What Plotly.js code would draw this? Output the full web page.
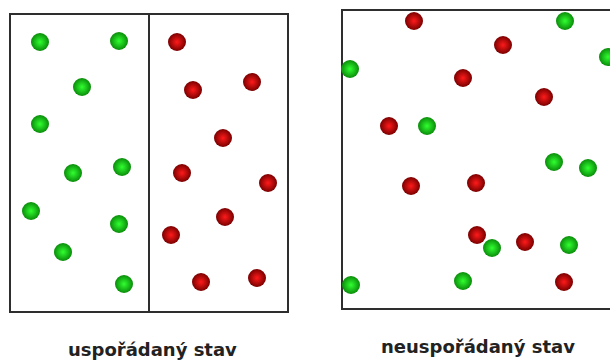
<!DOCTYPE html>
<html>
<head>
<meta charset="utf-8">
<script src="https://cdn.plot.ly/plotly-3.0.1.min.js"></script>
<style>html,body{margin:0;padding:0;background:#fff;}#chart{width:610px;height:361px;}</style>
</head>
<body>
<div id="chart"></div>
<script>
// Ordered state (left box): green on the left half, red on the right half
const orderedGreenX = [40, 119, 82, 40, 73, 122, 31, 119, 63, 124];
const orderedGreenY = [42, 41, 87, 124, 173, 167, 211, 224, 252, 284];
const orderedRedX = [177, 193, 252, 223, 182, 268, 225, 171, 201, 257];
const orderedRedY = [42, 90, 82, 138, 173, 183, 217, 235, 282, 278];

// Disordered state (right box): mixed
const mixedGreenX = [565, 608, 350, 427, 554, 588, 492, 569, 351, 463];
const mixedGreenY = [21, 57, 69, 126, 162, 168, 248, 245, 285, 281];
const mixedRedX = [414, 503, 463, 544, 389, 411, 476, 477, 525, 564];
const mixedRedY = [21, 45, 78, 97, 126, 186, 183, 235, 242, 282];

const labels = ["uspořádaný stav", "neuspořádaný stav"];
const labelX = [152, 478];
const labelY = [349, 346];

const greenStyle = {size: 18, color: '#0a8c0a', gradient: {type: 'radial', color: '#30ff30'}, line: {width: 0}};
const redStyle = {size: 18, color: '#7a0000', gradient: {type: 'radial', color: '#ff1a1a'}, line: {width: 0}};

const traces = [
  {x: orderedGreenX, y: orderedGreenY, mode: 'markers', type: 'scatter', marker: greenStyle, hoverinfo: 'skip'},
  {x: orderedRedX, y: orderedRedY, mode: 'markers', type: 'scatter', marker: redStyle, hoverinfo: 'skip'},
  {x: mixedGreenX, y: mixedGreenY, mode: 'markers', type: 'scatter', marker: greenStyle, hoverinfo: 'skip'},
  {x: mixedRedX, y: mixedRedY, mode: 'markers', type: 'scatter', marker: redStyle, hoverinfo: 'skip'}
];

const lineStyle = {color: '#2e2e2e', width: 2};
const layout = {
  width: 610, height: 361,
  margin: {l: 0, r: 0, t: 0, b: 0},
  paper_bgcolor: '#ffffff', plot_bgcolor: '#ffffff',
  showlegend: false,
  xaxis: {range: [0, 610], visible: false, fixedrange: true},
  yaxis: {range: [361, 0], visible: false, fixedrange: true},
  shapes: [
    {type: 'rect', xref: 'x', yref: 'y', x0: 10, x1: 288, y0: 14, y1: 312, line: lineStyle, layer: 'below'},
    {type: 'line', xref: 'x', yref: 'y', x0: 149, x1: 149, y0: 14, y1: 312, line: lineStyle, layer: 'below'},
    {type: 'rect', xref: 'x', yref: 'y', x0: 342, x1: 620, y0: 10, y1: 309, line: lineStyle, layer: 'below'}
  ],
  annotations: labels.map((t, i) => ({
    text: t, x: labelX[i], y: labelY[i], xref: 'x', yref: 'y',
    showarrow: false, xanchor: 'center', yanchor: 'middle',
    font: {family: 'DejaVu Sans', size: 18, color: '#222222', weight: 'bold'}
  }))
};

Plotly.newPlot('chart', traces, layout, {staticPlot: true, displayModeBar: false});
</script>
</body>
</html>
